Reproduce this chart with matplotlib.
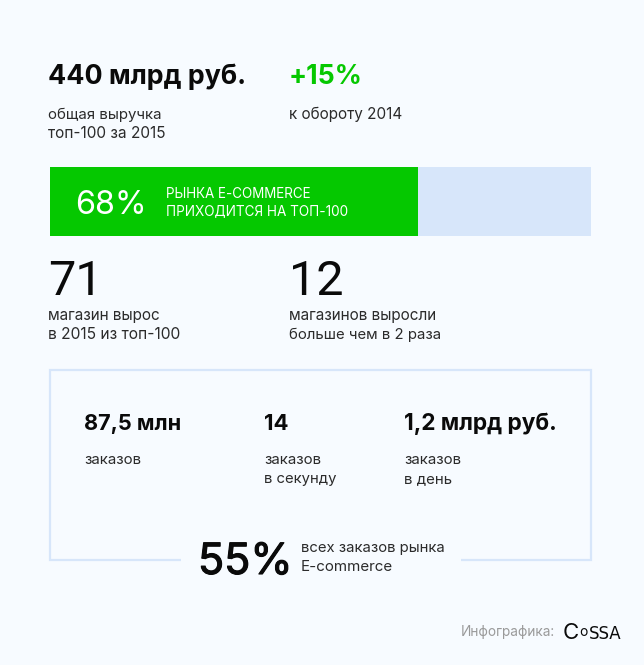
import matplotlib
matplotlib.use('Agg')
import matplotlib.pyplot as plt
import matplotlib.patheffects as pe

plt.rcParams['font.family'] = ['Inter', 'DejaVu Sans']

share_labels = ['топ-100', 'остальные']
share_values = [68, 32]
share_colors = ['#05c800', '#d7e6fa']

BG = '#f7fbff'
BLACK = '#0a0a0a'
GREY = '#2b2b2b'
BLUE = '#d7e6fa'

W, H = 644, 665
fig = plt.figure(figsize=(W / 100, H / 100), dpi=100, facecolor=BG)

# whole picture in pixel coordinates
ax = fig.add_axes([0, 0, 1, 1])
ax.set_xlim(0, W)
ax.set_ylim(H, 0)
ax.axis('off')

# share bar
bar_ax = fig.add_axes([50 / W, 1 - 236 / H, 541 / W, 69 / H])
left = 0
for lab, v, c in zip(share_labels, share_values, share_colors):
    bar_ax.barh(0, v, left=left, height=1, color=c, label=lab)
    left += v
bar_ax.set_xlim(0, 100)
bar_ax.set_ylim(-0.5, 0.5)
bar_ax.axis('off')
bar_ax.set_zorder(1)
ax.set_zorder(2)


def txt(x, y, s, size=10.8, color=GREY, weight='normal', **kw):
    return ax.text(x, y, s, fontsize=size, color=color, fontweight=weight,
                   va='baseline', ha='left', zorder=5, **kw)


# top row
txt(48, 84, '440 млрд руб.', 19.3, BLACK, 'bold')
txt(289, 84, '+15%', 19.3, '#05c800', 'bold')
txt(48, 119, 'общая выручка')
txt(48, 138, 'топ-100 за 2015', 11.1)
txt(289, 119, 'к обороту 2014', 11)

# inside the bar
txt(75, 214, '68%', 23.3, 'white')
txt(166, 198, 'РЫНКА E-COMMERCE', 9.7, 'white')
txt(166, 215, 'ПРИХОДИТСЯ НА ТОП-100', 9.75, 'white')

# second row
big = dict(family=['Roboto', 'DejaVu Sans'])
txt(48, 295, '71', 35, BLACK, **big)
txt(289, 295, '12', 35, BLACK, **big)
txt(48, 320, 'магазин вырос', 11)
txt(48, 339, 'в 2015 из топ-100', 11.2)
txt(289, 320, 'магазинов выросли', 11)
txt(289, 339, 'больше чем в 2 раза', 10.75)

# frame, open at the bottom behind the 55% note
ax.plot([181, 50, 50, 591, 591, 461], [560, 560, 370, 370, 560, 560],
        color=BLUE, lw=1.6, solid_joinstyle='miter', solid_capstyle='butt')

txt(84.5, 430, '87,5 млн', 15.6, BLACK, 'bold')
txt(264, 430, '14', 16, BLACK, 'bold')
txt(404, 430, '1,2 млрд руб.', 16.3, BLACK, 'bold')
txt(84.5, 464, 'заказов')
txt(264, 464, 'заказов')
txt(264, 483, 'в секунду', 10.7)
txt(404, 464, 'заказов')
txt(404, 483, 'в день')

pct = txt(198, 574, '55%', 31, BLACK)
pct.set_path_effects([pe.withStroke(linewidth=0.8, foreground=BLACK)])
txt(301, 552, 'всех заказов рынка', 10.7)
txt(301, 571, 'E-commerce', 10.9)

# footer, logo letters set apart because the o is small
txt(461, 636, 'Инфографика:', 9.8, '#9a9a9a')
narrow = dict(family=['Liberation Sans Narrow', 'DejaVu Sans'])
txt(563, 639, 'C', 16, BLACK)
txt(579, 636, 'o', 10, BLACK)
txt(589, 639, 'SSA', 12, BLACK, **narrow)

fig.savefig('out.png', dpi=100, facecolor=BG)
